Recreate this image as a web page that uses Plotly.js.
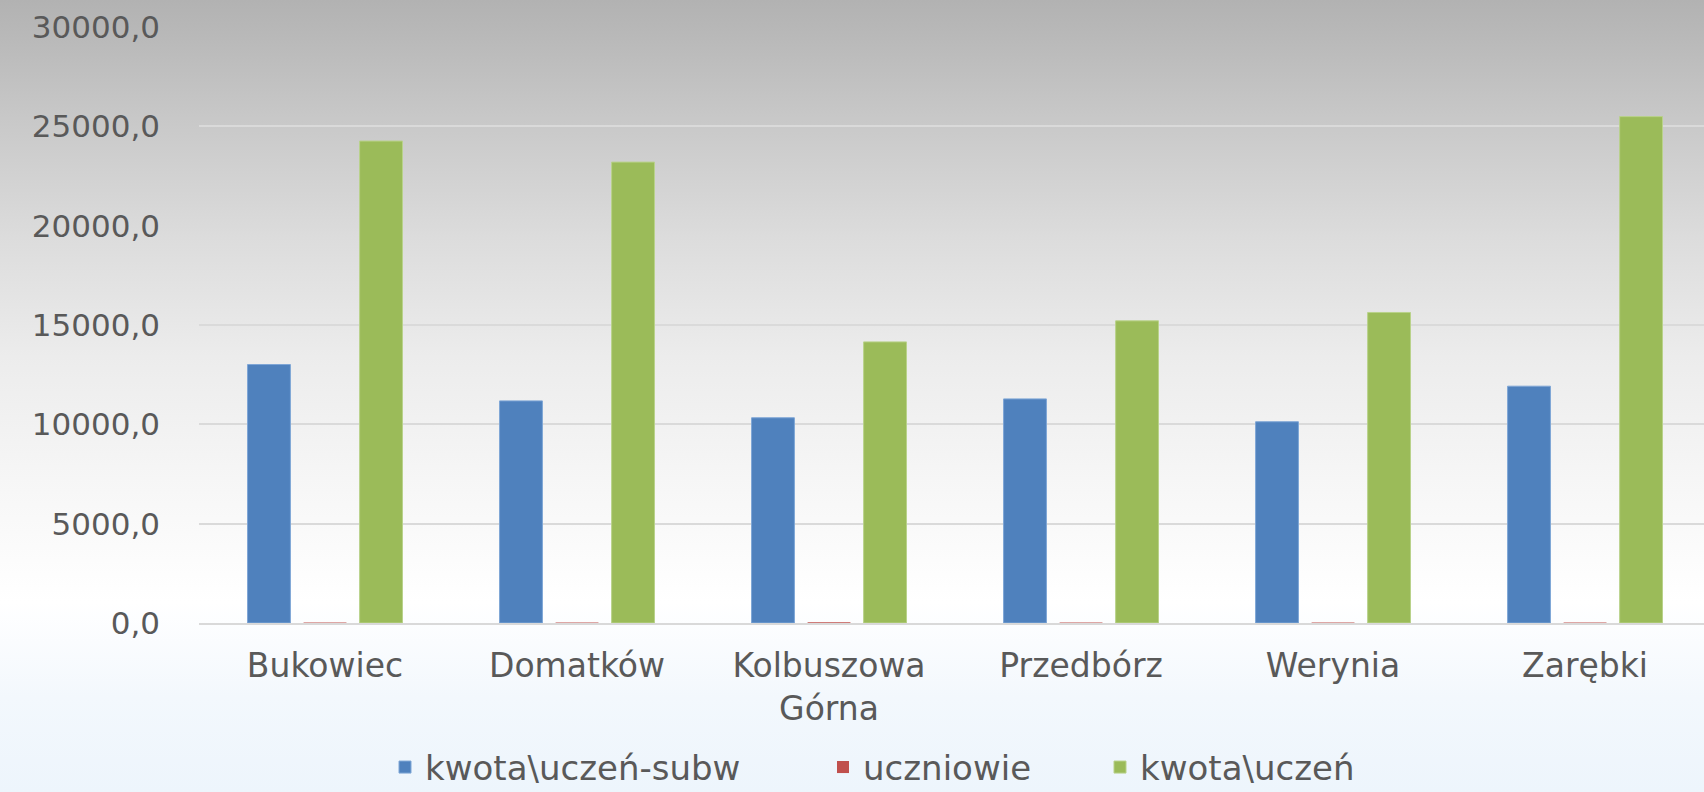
<!DOCTYPE html>
<html>
<head>
<meta charset="utf-8">
<script src="https://cdn.plot.ly/plotly-3.0.1.min.js"></script>
<style>
html, body { margin: 0; padding: 0; }
body {
  width: 1704px; height: 792px; overflow: hidden;
  background: linear-gradient(to bottom, #b2b2b2 0%, #c8c8c8 15%, #dcdcdc 30%, #ececec 45%, #f7f7f7 62%, #ffffff 76%, #f3f8fd 88%, #edf5fc 100%);
}
#chart { width: 1704px; height: 792px; }
</style>
</head>
<body>
<div id="chart"></div>
<script>
const categories = ["Bukowiec", "Domatków", "Kolbuszowa<br>Górna", "Przedbórz", "Werynia", "Zarębki"];
const kwotaUczenSubw = [13010, 11180, 10330, 11280, 10130, 11920];
const uczniowie = [30, 25, 35, 30, 25, 20];
const kwotaUczen = [24260, 23200, 14150, 15210, 15630, 25490];
const yTickVals = [0, 5000, 10000, 15000, 20000, 25000, 30000];
const yTickText = ["0,0", "5000,0", "10000,0", "15000,0", "20000,0", "25000,0", "30000,0"];

const textColor = "#595959";
const fontFam = "DejaVu Sans, sans-serif";
const traces = [
  { type: "bar", name: "kwota\\uczeń-subw", x: categories, y: kwotaUczenSubw, legend: "legend",
    marker: { color: "#4f81bd", line: { color: "#7ea6d6", width: 1 } } },
  { type: "bar", name: "uczniowie", x: categories, y: uczniowie, legend: "legend2",
    marker: { color: "#c0504d", line: { width: 0 } } },
  { type: "bar", name: "kwota\\uczeń", x: categories, y: kwotaUczen, legend: "legend3",
    marker: { color: "#9bbb59", line: { color: "#b9d28a", width: 1 } } }
];

function legendAt(xPx) {
  return {
    orientation: "h",
    xref: "container", yref: "container",
    x: xPx / 1704, xanchor: "left",
    y: 0.031, yanchor: "middle",
    font: { size: 34, color: textColor, family: fontFam },
    bgcolor: "rgba(0,0,0,0)",
    borderwidth: 0,
    itemclick: false
  };
}

const layout = {
  width: 1704, height: 792,
  paper_bgcolor: "rgba(0,0,0,0)",
  plot_bgcolor: "rgba(0,0,0,0)",
  margin: { l: 199, r: 0, t: 27, b: 169, autoexpand: false },
  barmode: "group",
  bargap: 0.333,
  bargroupgap: 0.235,
  font: { family: fontFam, color: textColor },
  showlegend: true,
  legend: legendAt(385),
  legend2: legendAt(823),
  legend3: legendAt(1100),
  xaxis: {
    type: "category",
    range: [-0.5, 5.472],
    showgrid: false,
    showline: true,
    linecolor: "#d9d9d9",
    linewidth: 2,
    ticks: "",
    automargin: false,
    tickfont: { size: 33, color: textColor, family: fontFam },
    ticklabelstandoff: 12,
    fixedrange: true
  },
  yaxis: {
    range: [0, 30000],
    tickvals: yTickVals,
    ticktext: yTickText,
    showgrid: true,
    gridcolor: "#dadada",
    gridwidth: 2,
    zeroline: false,
    showline: false,
    ticks: "",
    automargin: false,
    tickfont: { size: 31, color: textColor, family: fontFam },
    ticklabelstandoff: 38,
    fixedrange: true
  }
};

Plotly.newPlot("chart", traces, layout, { displayModeBar: false, staticPlot: true });
</script>
</body>
</html>
